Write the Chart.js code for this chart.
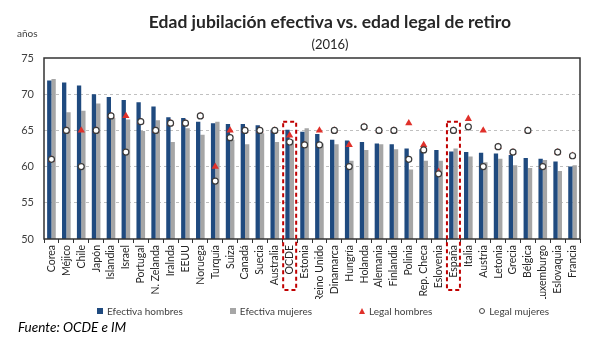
<!DOCTYPE html>
<html>
<head>
<meta charset="utf-8">
<script src="https://cdn.jsdelivr.net/npm/chart.js@4"></script>
<style>
  body { margin: 0; background: #fff; font-family: Lato, "Open Sans", sans-serif; }
  #wrap { position: relative; width: 609px; height: 362px; }
  #c { position: absolute; left: 0; top: 0; }
  .t { position: absolute; white-space: nowrap; color: #262626; }
  #title { left: 0; width: 660px; top: 11px; text-align: center; font-weight: bold; font-size: 17.5px; }
  #sub { left: 0; width: 660px; top: 36px; text-align: center; font-size: 13px; }
  #anos { left: 17px; top: 27px; font-size: 10px; color: #404040; }
  #src { left: 18px; top: 319px; font-size: 13.5px; font-style: italic; color: #000; }
  #legend { position: absolute; left: 97px; top: 305px; display: flex; gap: 47px; font-size: 10px; color: #404040; }
  #legend span { display: flex; align-items: center; gap: 4px; }
  .sq { width: 6px; height: 6px; display: inline-block; }
  .tri { width: 0; height: 0; border-left: 3.5px solid transparent; border-right: 3.5px solid transparent; border-bottom: 6px solid #e0302a; display: inline-block; }
  .ci { width: 4px; height: 4px; border: 1px solid #444; border-radius: 50%; display: inline-block; background: #fff; }
</style>
</head>
<body>
<div id="wrap">
  <canvas id="c" width="609" height="362"></canvas>
  <div class="t" id="title">Edad jubilación efectiva vs. edad legal de retiro</div>
  <div class="t" id="sub">(2016)</div>
  <div class="t" id="anos">años</div>
  <div id="legend">
    <span><i class="sq" style="background:#1f4a7f"></i>Efectiva hombres</span>
    <span><i class="sq" style="background:#a6a6a6"></i>Efectiva mujeres</span>
    <span><i class="tri"></i>Legal hombres</span>
    <span><i class="ci"></i>Legal mujeres</span>
  </div>
  <div class="t" id="src">Fuente: OCDE e IM</div>
</div>
<script>
const countries = ["Corea","Méjico","Chile","Japón","Islandia","Israel","Portugal","N. Zelanda","Iralnda","EEUU",
  "Noruega","Turquía","Suiza","Canadá","Suecia","Australia","OCDE","Estonia","Reino Unido","Dinamarca",
  "Hungría","Holanda","Alemania","Finlandia","Polinia","Rep. Checa","Eslovenia","España","Italia","Austria",
  "Letonia","Grecia","Bélgica","Luxemburgo","Eslovaquia","Francia"];

const efectivaHombres = [71.9,71.6,71.2,70.0,69.6,69.2,68.9,68.3,66.8,66.7,
  66.2,66.0,65.9,65.9,65.7,65.1,65.1,64.8,64.5,63.7,
  63.6,63.4,63.2,63.1,62.5,62.4,62.3,62.1,62.0,61.9,
  61.8,61.6,61.2,61.1,60.7,60.0];

const efectivaMujeres = [72.1,67.5,67.7,68.7,66.7,66.5,64.9,66.4,63.4,65.3,
  64.4,66.2,63.7,63.1,64.6,63.4,63.7,65.3,63.2,63.1,
  60.8,62.3,63.1,62.4,59.6,60.8,60.8,62.5,61.4,60.6,
  61.1,60.2,59.8,60.9,59.4,60.2];

const legalHombres = [61,65,65,65,67,67,66.2,65,66,66,
  67,60,65,65,65,65,64.3,63,65,65,
  63,65.5,65,65,66,63,59.3,65,66.6,65,
  62.75,62,65,60,62,61.5];

const legalMujeres = [61,65,60,65,67,62,66.2,65,66,66,
  67,58,64,65,65,65,63.4,63,63,65,
  60,65.5,65,65,61,62.3,59,65,65.5,60,
  62.75,62,65,60,62,61.5];

const yTicks = [50,55,60,65,70,75];
const highlighted = ["OCDE","España"];

const framePlugin = {
  id: "frame",
  afterDatasetsDraw(chart) {
    const {ctx, chartArea: a} = chart;
    ctx.save();
    ctx.strokeStyle = "#333";
    ctx.lineWidth = 1.5;
    ctx.strokeRect(a.left, a.top, a.right - a.left, a.bottom - a.top);
    ctx.restore();
  },
  afterDraw(chart) {
    const {ctx, chartArea: a, scales} = chart;
    ctx.save();
    ctx.strokeStyle = "#c00000";
    ctx.lineWidth = 2;
    ctx.setLineDash([4,3]);
    highlighted.forEach(name => {
      const x = scales.x.getPixelForValue(countries.indexOf(name));
      const top = scales.y.getPixelForValue(66.2);
      ctx.strokeRect(x - 6.5, top, 13, a.bottom + 51 - top);
    });
    ctx.restore();
  }
};

new Chart(document.getElementById("c"), {
  type: "bar",
  data: {
    labels: countries,
    datasets: [
      { type: "line", label: "Legal mujeres", data: legalMujeres, showLine: false,
        pointStyle: "circle", pointRadius: 3, pointBackgroundColor: "#fff",
        pointBorderColor: "#3a3a3a", pointBorderWidth: 1.2, order: 0 },
      { type: "line", label: "Legal hombres", data: legalHombres, showLine: false,
        pointStyle: "triangle", pointRadius: 4.2, pointBackgroundColor: "#e0302a",
        pointBorderColor: "#e0302a", pointBorderWidth: 0, order: 1 },
      { label: "Efectiva hombres", data: efectivaHombres, backgroundColor: "#1f4a7f",
        categoryPercentage: 0.58, barPercentage: 1.0, order: 2 },
      { label: "Efectiva mujeres", data: efectivaMujeres, backgroundColor: "#a6a6a6",
        categoryPercentage: 0.58, barPercentage: 1.0, order: 3 }
    ]
  },
  options: {
    responsive: false,
    animation: false,
    layout: { padding: { top: 58, left: 0, right: 29, bottom: 63 } },
    plugins: { legend: { display: false }, tooltip: { enabled: false } },
    scales: {
      x: {
        afterFit(s) { s.height = 60; },
        grid: { drawOnChartArea: false, color: "#333", tickLength: 4, offset: true },
        border: { display: false },
        ticks: { minRotation: 90, maxRotation: 90, autoSkip: false, padding: 2,
          color: "#262626", font: { family: "Lato", size: 10.5 } }
      },
      y: {
        min: 50, max: 75,
        afterFit(s) { s.width = 44; },
        afterBuildTicks(s) { s.ticks = yTicks.map(v => ({ value: v })); },
        grid: { drawTicks: false,
          color: c => (c.tick && (c.tick.value === 50 || c.tick.value === 75)) ? "rgba(0,0,0,0)" : "#c0c0c0" },
        border: { display: false, dash: [3,3] },
        ticks: { padding: 10, color: "#404040", font: { family: "Lato", size: 11 } }
      }
    }
  },
  plugins: [framePlugin]
});
</script>
</body>
</html>
